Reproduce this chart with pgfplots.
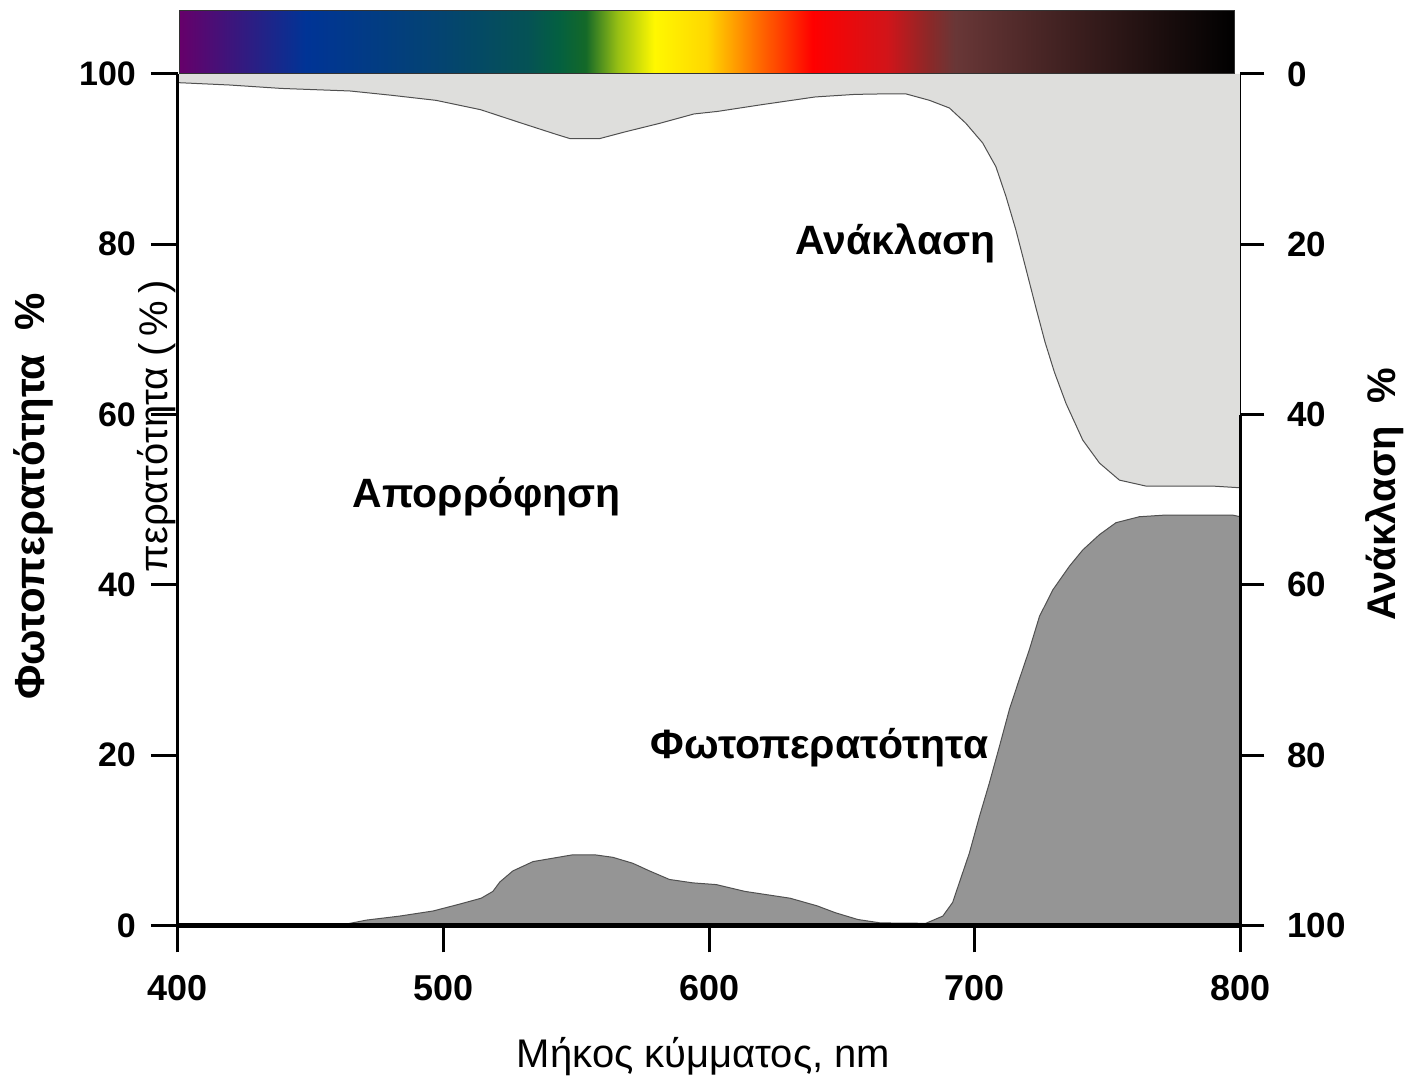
\documentclass[border=0pt]{standalone}
\usepackage{fontspec}
\setmainfont{Liberation Sans}
\usepackage{pgfplots}
\pgfplotsset{compat=1.18}

\definecolor{lightfill}{RGB}{222,222,220}
\definecolor{darkfill}{RGB}{149,149,149}
\definecolor{curvecol}{RGB}{80,80,80}
\definecolor{sp0}{RGB}{102,0,106}
\definecolor{sp1}{RGB}{0,52,150}
\definecolor{sp2}{RGB}{4,68,112}
\definecolor{sp3}{RGB}{5,82,85}
\definecolor{sp4}{RGB}{4,96,64}
\definecolor{sp5}{RGB}{20,105,40}
\definecolor{sp6}{RGB}{150,190,20}
\definecolor{sp7}{RGB}{255,248,0}
\definecolor{sp8}{RGB}{255,215,0}
\definecolor{sp9}{RGB}{255,115,0}
\definecolor{sp10}{RGB}{255,0,0}
\definecolor{sp11}{RGB}{210,20,25}
\definecolor{sp12}{RGB}{140,40,40}
\definecolor{sp13}{RGB}{105,55,55}
\definecolor{sp14}{RGB}{55,28,28}
\definecolor{sp15}{RGB}{0,0,0}
\pgfdeclarehorizontalshading{spectrum}{100bp}{color(0bp)=(sp0); color(25bp)=(sp0); color(31bp)=(sp1); color(37.5bp)=(sp2); color(41.5bp)=(sp3); color(43bp)=(sp4); color(44.25bp)=(sp5); color(45.75bp)=(sp6); color(47.5bp)=(sp7); color(50bp)=(sp8); color(52.25bp)=(sp9); color(55bp)=(sp10); color(58.5bp)=(sp11); color(60.5bp)=(sp12); color(61.75bp)=(sp13); color(68bp)=(sp14); color(75bp)=(sp15); color(100bp)=(sp15)}

\begin{document}
\begin{tikzpicture}
\begin{axis}[
  at={(0,0)}, anchor=south west,
  scale only axis, width=531.5pt, height=426pt,
  xmin=400, xmax=800, ymin=0, ymax=100,
  axis x line*=bottom, axis y line*=left,
  x axis line style={line width=2.5pt,-},
  y axis line style={line width=1.5pt,-},
  xtick={400,500,...,800}, ytick={0,20,...,100},
  tick align=outside, major tick length=13.5pt,
  every tick/.style={black,line width=1.5pt},
  ticklabel style={font=\fontsize{17pt}{20pt}\selectfont\bfseries},
  xticklabel style={yshift=-8pt, font=\fontsize{18pt}{20pt}\selectfont\bfseries},
  yticklabel style={xshift=-4pt},
  /pgf/number format/assume math mode=true,
  clip=false, axis on top,
]
% reflection area (filled from curve up to 100)
\addplot[fill=lightfill, draw=none] coordinates {
(400,100) (400,98.98) (419.5,98.7) (438.9,98.3) (464.8,98.0) (480.3,97.5) (497.2,96.9) (514,95.8) (529.6,94.2) (542.5,92.9) (547.7,92.4) (558.7,92.4) (568.4,93.2) (581.4,94.2) (594.3,95.3) (603.2,95.6) (620,96.4) (640,97.3) (655,97.6) (664.2,97.65) (674.2,97.65) (683,96.9) (690.5,96.0) (696.7,94.2) (703,91.9) (708,89.1) (711.8,85.6) (715.5,81.7) (719.4,77.0) (723.1,72.5) (726.5,68.5) (730,65.0) (734.4,61.3) (740.7,57.0) (747,54.3) (754.5,52.3) (764.5,51.6) (789.6,51.6) (800,51.4) (800,100)};
\addplot[curvecol, line width=0.5pt] coordinates {
(400,98.98) (419.5,98.7) (438.9,98.3) (464.8,98.0) (480.3,97.5) (497.2,96.9) (514,95.8) (529.6,94.2) (542.5,92.9) (547.7,92.4) (558.7,92.4) (568.4,93.2) (581.4,94.2) (594.3,95.3) (603.2,95.6) (620,96.4) (640,97.3) (655,97.6) (664.2,97.65) (674.2,97.65) (683,96.9) (690.5,96.0) (696.7,94.2) (703,91.9) (708,89.1) (711.8,85.6) (715.5,81.7) (719.4,77.0) (723.1,72.5) (726.5,68.5) (730,65.0) (734.4,61.3) (740.7,57.0) (747,54.3) (754.5,52.3) (764.5,51.6) (789.6,51.6) (800,51.4)};
% transmittance area
\addplot[fill=darkfill, draw=none] coordinates {
(400,0) (461.6,0.05) (471,0.63) (483.5,1.1) (496.1,1.7) (506,2.5) (514.2,3.2) (518.6,4.0) (521.2,5.1) (526.1,6.4) (533.7,7.5) (541.2,7.9) (548.7,8.3) (556.9,8.3) (563.8,8.0) (571.3,7.3) (577.6,6.4) (585.1,5.4) (593.9,5.0) (602.7,4.8) (613.5,4.0) (630.5,3.2) (640.7,2.3) (647.5,1.5) (656,0.7) (664.5,0.3) (681.6,0.25) (688,1.1) (691.7,2.7) (695.5,6.2) (698,8.5) (701.8,12.8) (705.5,16.7) (709.3,21.0) (713.1,25.4) (716.8,28.9) (720.6,32.4) (724.4,36.3) (729.4,39.4) (735.7,42.2) (740.7,44.1) (747,45.9) (753.2,47.3) (762,48.0) (772,48.2) (797,48.2) (800,48.0)} \closedcycle;
\addplot[curvecol, line width=0.5pt] coordinates {
(461.6,0.05) (471,0.63) (483.5,1.1) (496.1,1.7) (506,2.5) (514.2,3.2) (518.6,4.0) (521.2,5.1) (526.1,6.4) (533.7,7.5) (541.2,7.9) (548.7,8.3) (556.9,8.3) (563.8,8.0) (571.3,7.3) (577.6,6.4) (585.1,5.4) (593.9,5.0) (602.7,4.8) (613.5,4.0) (630.5,3.2) (640.7,2.3) (647.5,1.5) (656,0.7) (664.5,0.3) (681.6,0.25) (688,1.1) (691.7,2.7) (695.5,6.2) (698,8.5) (701.8,12.8) (705.5,16.7) (709.3,21.0) (713.1,25.4) (716.8,28.9) (720.6,32.4) (724.4,36.3) (729.4,39.4) (735.7,42.2) (740.7,44.1) (747,45.9) (753.2,47.3) (762,48.0) (772,48.2) (797,48.2) (800,48.0)};
% spectrum bar
\shadedraw[shading=spectrum, draw=black!80, line width=0.5pt] (axis cs:400.6,100.1) rectangle (axis cs:797.9,107.5);
% thick lower part of right axis line
\draw[black, line width=1.5pt] (axis cs:800,0) -- (axis cs:800,60);
% labels inside
\node[font=\fontsize{20.5pt}{22pt}\selectfont\bfseries] at (axis cs:670.2,80.1) {Ανάκλαση};
\node[font=\fontsize{20.5pt}{22pt}\selectfont\bfseries] at (axis cs:516.3,50.4) {Απορρόφηση};
\node[font=\fontsize{20.5pt}{22pt}\selectfont\bfseries] at (axis cs:641.6,20.9) {Φωτοπερατότητα};
% axis titles
\node[font=\fontsize{20pt}{24pt}\selectfont, anchor=center] at (axis description cs:0.4948,-0.1538) {Μήκος κύμματος, nm};
\node[font=\fontsize{21pt}{24pt}\selectfont\bfseries, rotate=90] at (axis description cs:-0.1364,0.5035) {Φωτοπερατότητα\ \ \%};
\node[font=\fontsize{20pt}{24pt}\selectfont\bfseries, rotate=90] at (axis description cs:1.1355,0.506) {Ανάκλαση\ \ \%};
\node[font=\fontsize{20pt}{24pt}\selectfont, rotate=90] at (axis description cs:-0.0198,0.586) {περατότητα (\,\%\,)};
\end{axis}
\begin{axis}[
  at={(0,0)}, anchor=south west,
  scale only axis, width=531.5pt, height=426pt,
  xmin=400, xmax=800, ymin=0, ymax=100,
  y dir=reverse,
  axis y line*=right, axis x line=none,
  y axis line style={line width=0.6pt,-},
  ytick={0,20,...,100},
  tick align=outside, major tick length=12pt,
  every tick/.style={black,line width=1.5pt},
  ticklabel style={font=\fontsize{17.5pt}{20pt}\selectfont\bfseries},
  yticklabel style={xshift=8pt},
  /pgf/number format/assume math mode=true,
]
\addplot[draw=none] coordinates {(400,0) (800,100)};
\end{axis}
\path (-89pt,-76.5pt) rectangle (616pt,463pt);
\end{tikzpicture}
\end{document}
